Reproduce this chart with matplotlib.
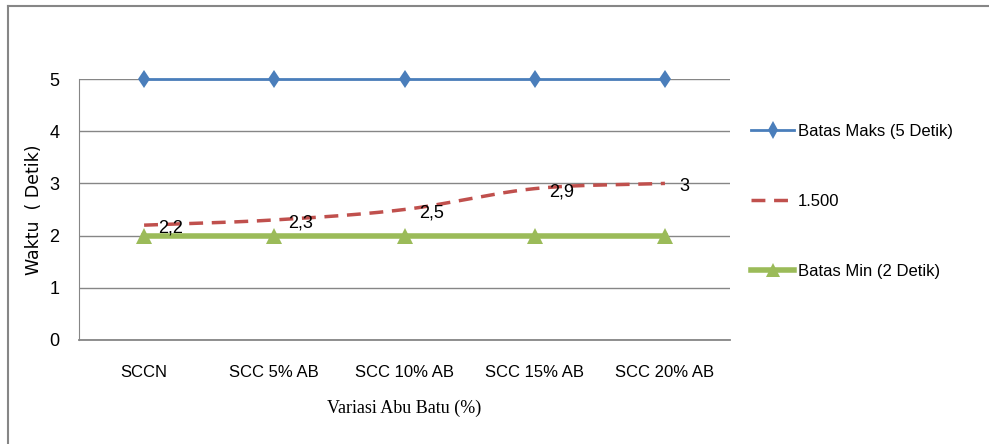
import matplotlib
matplotlib.use("Agg")
import matplotlib.pyplot as plt
import numpy as np
from matplotlib.lines import Line2D

categories = ["SCCN", "SCC 5% AB", "SCC 10% AB", "SCC 15% AB", "SCC 20% AB"]
batas_maks = [5, 5, 5, 5, 5]
waktu = [2.2, 2.3, 2.5, 2.9, 3.0]
waktu_labels = ["2,2", "2,3", "2,5", "2,9", "3"]
batas_min = [2, 2, 2, 2, 2]
yticks = [0, 1, 2, 3, 4, 5]

W, H = 989, 444
fig = plt.figure(figsize=(W / 100, H / 100), dpi=100)
ax = fig.add_axes([79 / W, 1 - 340 / H, (730 - 79) / W, (340 - 79) / H])

narrow = ["Liberation Sans Narrow", "Liberation Sans", "DejaVu Sans"]

x = np.arange(len(categories))

def smooth(xs, ys, n=40):
    xs = np.asarray(xs, float); ys = np.asarray(ys, float)
    out_x, out_y = [], []
    m = np.zeros_like(ys)
    for i in range(len(ys)):
        if i == 0:
            m[i] = ys[1] - ys[0]
        elif i == len(ys) - 1:
            m[i] = ys[-1] - ys[-2]
        else:
            m[i] = (ys[i + 1] - ys[i - 1]) / 2
    for i in range(len(ys) - 1):
        t = np.linspace(0, 1, n)
        h00 = 2 * t**3 - 3 * t**2 + 1
        h10 = t**3 - 2 * t**2 + t
        h01 = -2 * t**3 + 3 * t**2
        h11 = t**3 - t**2
        yy = h00 * ys[i] + h10 * m[i] + h01 * ys[i + 1] + h11 * m[i + 1]
        out_x.extend(xs[i] + t)
        out_y.extend(yy)
    return out_x, out_y

blue, red, green = "#4a7ebb", "#c0504d", "#9bbb59"

ax.plot(x, batas_maks, color=blue, lw=2, marker="d", ms=9.5,
        markeredgewidth=0, zorder=4, clip_on=False)
sx, sy = smooth(x, waktu)
ax.plot(sx, sy, color=red, lw=2.5, ls=(0, (4, 2.5)), zorder=3)
ax.plot(x, batas_min, color=green, lw=4, marker="^", ms=11,
        markeredgewidth=0, zorder=3)

for xi, yi, lab in zip(x, waktu, waktu_labels):
    ax.text(xi + 0.11, yi - 0.06, lab, fontsize=13, family=narrow,
            ha="left", va="center", zorder=5)

ax.set_xlim(-0.5, len(categories) - 0.5)
ax.set_ylim(0, 5)
ax.set_yticks(yticks)
ax.set_yticklabels([str(v) for v in yticks], family=narrow, fontsize=13)
ax.set_xticks(x)
ax.set_xticklabels(categories, family=narrow, fontsize=12)
ax.tick_params(axis="both", length=0, pad=18)
ax.tick_params(axis="y", pad=14)
ax.grid(axis="y", color="#868686", lw=1)
ax.set_axisbelow(True)
for s in ["top", "right"]:
    ax.spines[s].set_visible(False)
ax.spines["left"].set_color("#868686")
ax.spines["bottom"].set_color("#868686")
ax.spines["bottom"].set_linewidth(1.3)

ax.set_xlabel("Variasi Abu Batu (%)", family="Liberation Serif", fontsize=13,
              labelpad=14)
fig.text(34 / W, 1 - 210 / H, "Waktu  ( Detik)", rotation=90, fontsize=12.5,
         family="DejaVu Sans", ha="center", va="center")

handles = [
    Line2D([], [], color=blue, lw=2, marker="d", ms=9, markeredgewidth=0),
    Line2D([], [], color=red, lw=2.5, ls=(0, (4, 2.5))),
    Line2D([], [], color=green, lw=4, marker="^", ms=10, markeredgewidth=0),
]
labels = ["Batas Maks (5 Detik)", "1.500", "Batas Min (2 Detik)"]
leg = fig.legend(handles, labels, loc="upper left",
                 bbox_to_anchor=(736 / W, 1 - 109 / H), frameon=False,
                 prop={"family": narrow, "size": 12}, labelspacing=3.3,
                 handlelength=2.6, handletextpad=0.2)

fig.add_artist(Line2D([7.5 / W, 7.5 / W], [0, 1 - 6 / H],
                      transform=fig.transFigure, color="#868686", lw=1.5))
fig.add_artist(Line2D([7.5 / W, 1], [1 - 6 / H, 1 - 6 / H],
                      transform=fig.transFigure, color="#868686", lw=1.5))

fig.savefig("out.png", dpi=100)
